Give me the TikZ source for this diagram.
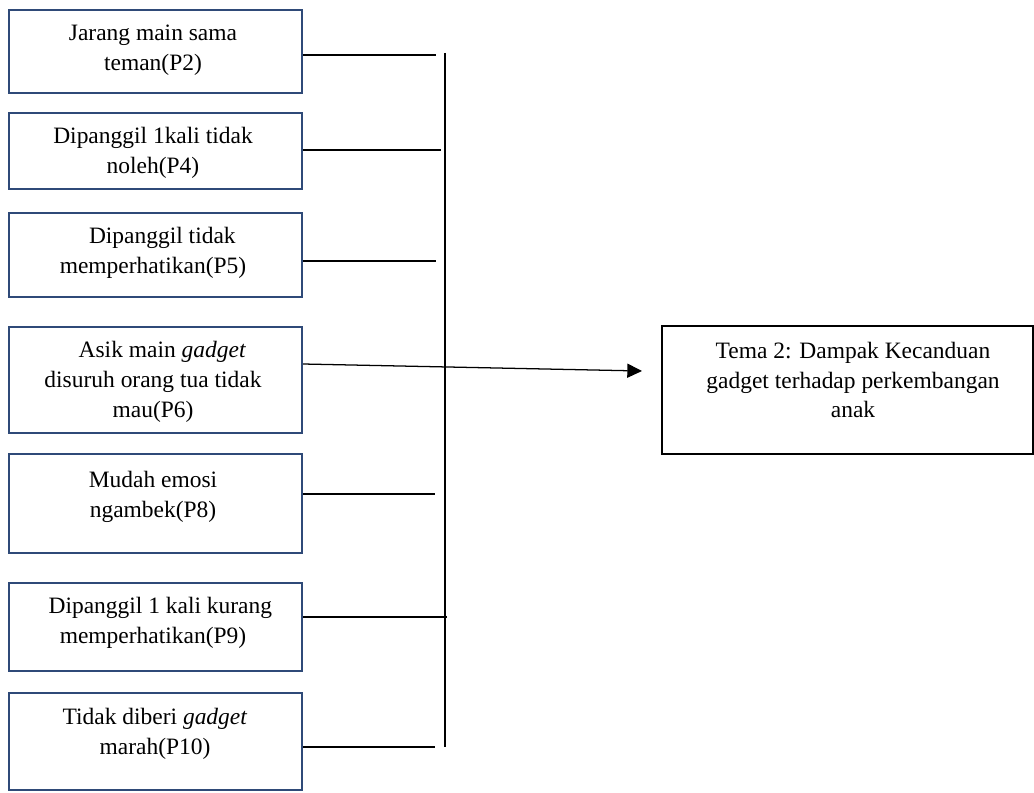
\documentclass[tikz,border=0pt]{standalone}
\usepackage{fontspec}
\setmainfont{Liberation Serif}
\usetikzlibrary{arrows.meta}
\definecolor{navy}{HTML}{2F4A78}
\begin{document}
\begin{tikzpicture}[x=0.75pt,y=-0.75pt,
  lbox/.style={draw=navy,line width=1.6pt,minimum width=293*0.75pt,inner sep=0pt},
  tbox/.style={draw=black,line width=0.9pt,inner sep=0pt,minimum width=371*0.75pt,minimum height=128*0.75pt},
  txt/.style={align=center,inner sep=0pt,font=\fontsize{17.6pt}{22.3pt}\selectfont},
  conn/.style={line width=0.95pt,black},
]
\useasboundingbox (0,0) rectangle (1034,792);
% left boxes
\node[lbox,minimum height=83*0.75pt] (b1) at (155.5,51.5) {};
\node[lbox,minimum height=76*0.75pt] (b2) at (155.5,151) {};
\node[lbox,minimum height=84*0.75pt] (b3) at (155.5,255) {};
\node[lbox,minimum height=106*0.75pt] (b4) at (155.5,380) {};
\node[lbox,minimum height=99*0.75pt] (b5) at (155.5,503.5) {};
\node[lbox,minimum height=88*0.75pt] (b6) at (155.5,627) {};
\node[lbox,minimum height=97*0.75pt] (b7) at (155.5,741.5) {};
\node[tbox] (t) at (847.5,390) {};
% texts
\node[txt] (t1) at (153,50) {Jarang main sama\\teman(P2)};
\node[txt] (t2) at (153,153) {Dipanggil 1kali tidak\\noleh(P4)};
\node[txt] (t3) at (153,253) {\hspace*{14pt}Dipanggil tidak\\memperhatikan(P5)};
\node[txt] (t4) at (153,382) {\hspace*{14pt}Asik main \textit{gadget}\\disuruh orang tua tidak\\mau(P6)};
\node[txt] (t5) at (153,497) {Mudah emosi\\ngambek(P8)};
\node[txt] (t6) at (153,623) {\hspace*{11pt}Dipanggil 1 kali kurang\\memperhatikan(P9)};
\node[txt] (t7) at (155,734) {Tidak diberi \textit{gadget}\\marah(P10)};
\node[txt] (tt) at (853,380) {Tema 2: Dampak Kecanduan\\gadget terhadap perkembangan\\anak};
% bar
\coordinate (bartop) at (445,53);
\coordinate (barbot) at (445,747);
\draw[conn] (bartop) -- (barbot);
% connector ends
\coordinate (j1) at (436,55);
\coordinate (j2) at (441,150);
\coordinate (j3) at (436,261);
\coordinate (j5) at (435,494);
\coordinate (j6) at (447,617);
\coordinate (j7) at (435,747);
\coordinate (tip) at (642,371);
\draw[conn] (b1.east |- j1) -- (j1);
\draw[conn] (b2.east |- j2) -- (j2);
\draw[conn] (b3.east |- j3) -- (j3);
\draw[conn] (b5.east |- j5) -- (j5);
\draw[conn] (b6.east |- j6) -- (j6);
\draw[conn] (b7.east |- j7) -- (j7);
\draw[conn,-{Triangle[length=11pt,width=10.5pt]}] ([yshift=12pt]b4.east) -- (tip);
\end{tikzpicture}
\end{document}
